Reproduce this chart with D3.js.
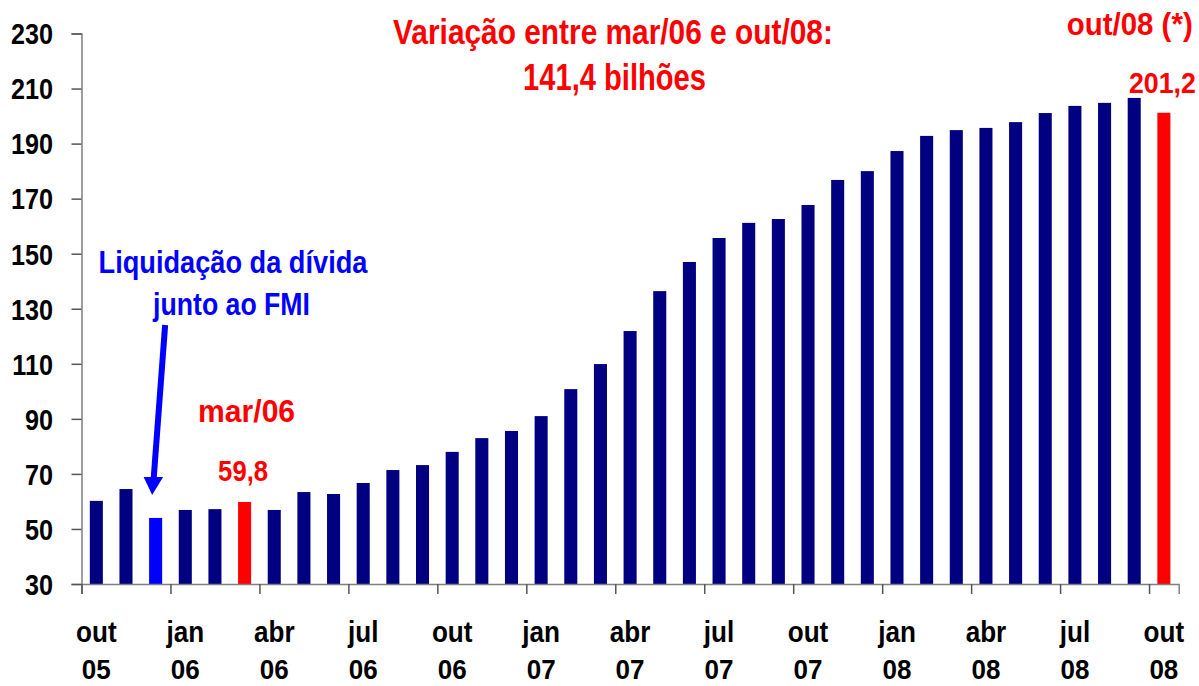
<!DOCTYPE html>
<html lang="pt">
<head>
<meta charset="utf-8">
<title>Reservas internacionais</title>
<script src="https://d3js.org/d3.v7.min.js"></script>
<style>
  body { margin: 0; background: #fff; }
  text { font-family: "Liberation Sans", Arial, sans-serif; font-weight: bold; }
</style>
</head>
<body>
<script>
// months from out/05 to out/08
var months = ["out/05","nov/05","dez/05","jan/06","fev/06","mar/06","abr/06","mai/06","jun/06","jul/06","ago/06","set/06",
              "out/06","nov/06","dez/06","jan/07","fev/07","mar/07","abr/07","mai/07","jun/07","jul/07","ago/07","set/07",
              "out/07","nov/07","dez/07","jan/08","fev/08","mar/08","abr/08","mai/08","jun/08","jul/08","ago/08","set/08","out/08"];

var values = [60.2, 64.5, 54.0, 56.9, 57.2, 59.8, 56.9, 63.4, 62.7, 66.7, 71.4, 73.2,
              78.0, 83.0, 85.6, 91.0, 100.8, 109.9, 121.9, 136.4, 147.0, 155.7, 161.2, 162.6,
              167.7, 176.8, 180.0, 187.3, 192.8, 194.9, 195.7, 197.8, 201.1, 203.7, 204.8, 206.6, 201.2];

// special bars
var highlightRed = ["mar/06", "out/08"];
var highlightBlue = ["dez/05"];

var yTicks = [30, 50, 70, 90, 110, 130, 150, 170, 190, 210, 230];
var xTickIdx = [0, 3, 6, 9, 12, 15, 18, 21, 24, 27, 30, 33, 36];
var xTickTop = ["out","jan","abr","jul","out","jan","abr","jul","out","jan","abr","jul","out"];
var xTickBottom = ["05","06","06","06","06","07","07","07","07","08","08","08","08"];

var w = 1199, h = 686;
var mLeft = 81.5, mRight = 1178.7, mTop = 33.5, mBottom = 584;

var svg = d3.select("body").append("svg")
    .attr("width", w)
    .attr("height", h);

var x = d3.scaleBand().domain(months).range([mLeft, mRight])
    .paddingInner(0.56).paddingOuter(0.28);
var xEdge = d3.scaleLinear().domain([0, months.length]).range([mLeft, mRight]);
var y = d3.scaleLinear().domain([30, 230]).range([mBottom, mTop]);

function barColor(m) {
  if (highlightRed.indexOf(m) >= 0) return "#ff0000";
  if (highlightBlue.indexOf(m) >= 0) return "#0000ff";
  return "#000080";
}
function cx(m) { return x(m) + x.bandwidth() / 2; }
function val(m) { return values[months.indexOf(m)]; }

// narrow bold text: Liberation Sans squeezed horizontally
function label(px, py, str, size, color, sx, anchor) {
  return svg.append("text")
    .attr("transform", "translate(" + px + "," + py + ") scale(" + sx + ",1)")
    .attr("text-anchor", anchor || "middle")
    .attr("font-size", size)
    .attr("fill", color)
    .text(str);
}
// squeeze to a target width
function fit(px, py, str, size, color, width) {
  var t = label(px, py, str, size, color, 1);
  var len = t.node().getComputedTextLength();
  t.attr("transform", "translate(" + px + "," + py + ") scale(" + (width / len) + ",1)");
  return t;
}

// bars
svg.append("g").selectAll("rect")
  .data(months)
  .enter().append("rect")
  .attr("x", function(d) { return x(d); })
  .attr("width", x.bandwidth())
  .attr("y", function(d, i) { return y(values[i]); })
  .attr("height", function(d, i) { return y(30) - y(values[i]); })
  .attr("fill", barColor);

// y axis
var yAxis = svg.append("g")
  .attr("transform", "translate(" + mLeft + ",0)")
  .call(d3.axisLeft(y).tickValues(yTicks).tickSize(10).tickFormat(""));
yAxis.select(".domain").attr("stroke", "#808080").attr("stroke-width", 1.5);
yAxis.selectAll(".tick line").attr("stroke", "#555").attr("stroke-width", 1.5);
yTicks.forEach(function(t) {
  label(53, y(t) + 10.8, String(t), 30, "#000", 0.84, "end");
});

// x axis
var xAxis = svg.append("g")
  .attr("transform", "translate(0," + mBottom + ")")
  .call(d3.axisBottom(xEdge).tickValues(xTickIdx).tickSize(10).tickFormat(""));
xAxis.select(".domain").attr("stroke", "#808080").attr("stroke-width", 1.5);
xAxis.selectAll(".tick line").attr("stroke", "#555").attr("stroke-width", 1.5);
xTickIdx.forEach(function(d, i) {
  label(cx(months[d]), 642, xTickTop[i], 29, "#000", 0.9);
  label(cx(months[d]), 679, xTickBottom[i], 28, "#000", 0.93);
});

// annotations
var red = "#ff0000", blue = "#0000ff";

fit(613, 44, "Variação entre mar/06 e out/08:", 36, red, 440);
fit(614.5, 90, "141,4 bilhões", 36, red, 183);

fit(1129.7, 35, "out/08 (*)", 32, red, 126);
fit(cx("out/08") - 1.5, y(val("out/08")) - 20, "201,2", 30, red, 67);

fit(cx("mar/06") + 2, 422, "mar/06", 32, red, 97);
fit(cx("mar/06") - 1.5, y(val("mar/06")) - 21, "59,8", 29, red, 50);

fit(233, 272.5, "Liquidação da dívida", 30.5, blue, 269);
fit(231.5, 315, "junto ao FMI", 30.5, blue, 157);

// arrow to the dez/05 bar
var tipX = cx("dez/05") - 3.5, tipY = y(val("dez/05")) - 23;
svg.append("line")
  .attr("x1", tipX + 13).attr("y1", 325)
  .attr("x2", tipX + 1.5).attr("y2", tipY - 16)
  .attr("stroke", blue).attr("stroke-width", 6);
svg.append("path")
  .attr("d", "M" + (tipX - 8.5) + "," + (tipY - 18) + "L" + (tipX + 11) + "," + (tipY - 18) + "L" + tipX + "," + tipY + "Z")
  .attr("fill", blue);
</script>
</body>
</html>
